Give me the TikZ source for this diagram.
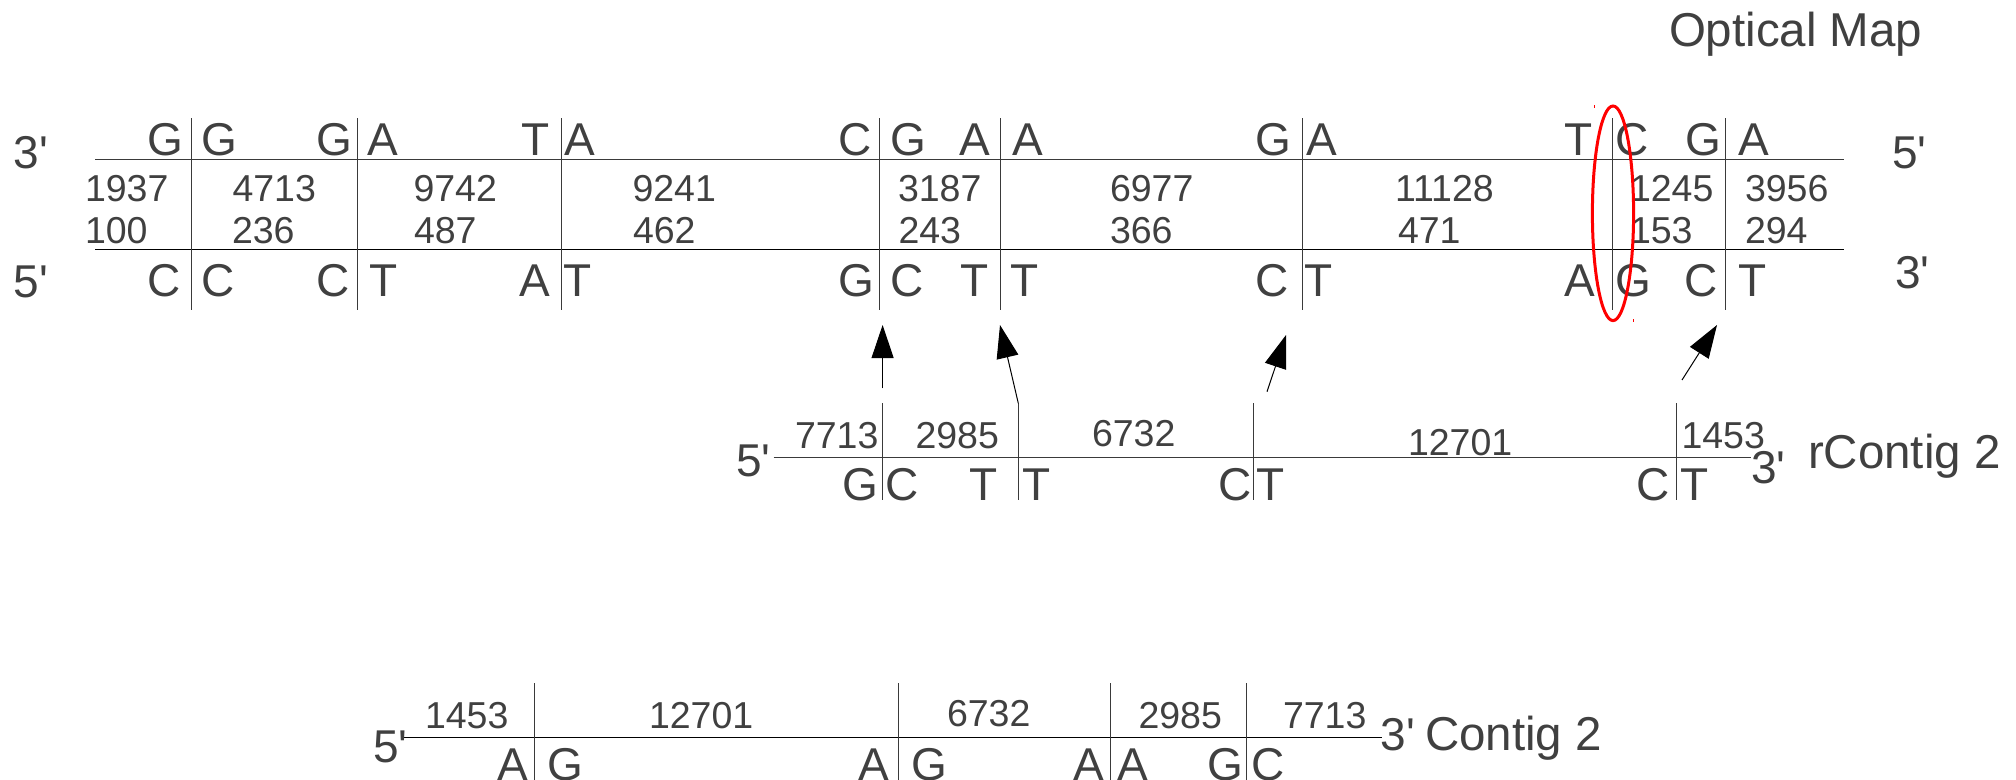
\documentclass[tikz,border=0pt]{standalone}
\usepackage{fontspec}
\setmainfont{Liberation Sans}
\usetikzlibrary{arrows.meta}
\definecolor{txt}{HTML}{404040}
\definecolor{ln}{HTML}{3a3a3a}
\newcommand{\ap}{\textquotesingle}
\begin{document}
\begin{tikzpicture}[x=0.4pt,y=-0.4pt,
 big/.style={font=\fontsize{18.4}{20}\selectfont,text=txt,inner sep=0pt,outer sep=0pt},
 num/.style={font=\fontsize{15}{17}\selectfont,text=txt,inner sep=0pt,outer sep=0pt},
 ttl/.style={font=\fontsize{19}{21}\selectfont,text=txt,inner sep=0pt,outer sep=0pt},
 strand/.style={draw=ln,line width=0.5pt},
 site/.style={draw=ln,line width=0.4pt},
 arr/.style={draw=black,line width=0.4pt,-{Triangle[length=13.2pt,width=8.8pt]}}]
\useasboundingbox (0,0) rectangle (2016,780);

% ---------- Optical map ----------
\node[ttl,anchor=base west] (title) at (1669,46.7) {Optical Map};
\coordinate (ts0) at (95,159.3); \coordinate (ts1) at (1844,159.3);
\coordinate (bs0) at (95,249.3); \coordinate (bs1) at (1844,249.3);
\draw[strand] (ts0) -- (ts1);
\draw[strand,draw=black] (bs0) -- (bs1);
\foreach \x [count=\i] in {191,357.6,561.6,879,1000,1302.6,1612.6,1725.7}{
  \coordinate (ov\i a) at (\x,118.3); \coordinate (ov\i b) at (\x,310);
  \draw[site] (ov\i a) -- (ov\i b);
}
\node[big,anchor=base west] (o3) at (14,168.3) {3\ap};
\node[big,anchor=base west] (o5) at (14,297) {5\ap};
\node[big,anchor=base west] (o5r) at (1892,168.3) {5\ap};
\node[big,anchor=base west] (o3r) at (1895,288) {3\ap};
\foreach \x/\l [count=\i] in {183/G,352/G,550/T,872/C,990/A,1291/G,1593/T,1721/G}
  \node[big,anchor=base east] (tl\i) at (\x,155) {\l};
\foreach \x/\l [count=\i] in {201/G,367/A,564/A,890/G,1012/A,1306/A,1615/C,1738/A}
  \node[big,anchor=base west] (tr\i) at (\x,155) {\l};
\foreach \x/\l [count=\i] in {181/C,350/C,550/A,874/G,989/T,1289/C,1595/A,1718/C}
  \node[big,anchor=base east] (bl\i) at (\x,296.7) {\l};
\foreach \x/\l [count=\i] in {201/C,369/T,563/T,890/C,1010/T,1304/T,1615/G,1738/T}
  \node[big,anchor=base west] (br\i) at (\x,296.7) {\l};
\foreach \x/\n [count=\i] in {85/1937,232.5/4713,413.5/9742,632.5/9241,898/3187,1110/6977,1395/11128,1630/1245,1745/3956}
  \node[num,anchor=base west] (na\i) at (\x,201.7) {\n};
\foreach \x/\n [count=\i] in {85/100,232/236,414/487,633/462,898.5/243,1110/366,1398/471,1630/153,1745/294}
  \node[num,anchor=base west] (nb\i) at (\x,243.3) {\n};
\draw[red,line width=1.2pt] (1613,213.3) ellipse [x radius=8.24pt,y radius=42.92pt];
\draw[red,line width=0.4pt] (1594,105) -- (1594,108);
\draw[red,line width=0.4pt] (1633,319) -- (1633,322);

% ---------- rContig 2 ----------
\coordinate (m0) at (773.7,457.7); \coordinate (m1) at (1751,457.7);
\draw[strand] (m0) -- (m1);
\foreach \x [count=\i] in {882.6,1018.3,1253.5,1676}{
  \coordinate (mv\i a) at (\x,403.3); \coordinate (mv\i b) at (\x,500);
  \draw[site] (mv\i a) -- (mv\i b);
}
\node[big,anchor=base west] (m5) at (736,476.7) {5\ap};
\node[big,anchor=base west] (m3) at (1751,483.3) {3\ap};
\node[ttl,anchor=base west] (rc) at (1808,468.3) {rContig 2};
\node[num,anchor=base west] (mn1) at (795,448.3) {7713};
\node[num,anchor=base west] (mn2) at (915.5,448.3) {2985};
\node[num,anchor=base west] (mn3) at (1092,446.7) {6732};
\node[num,anchor=base west] (mn4) at (1408,455) {12701};
\node[num,anchor=base west] (mn5) at (1681.5,448) {1453};
\foreach \x/\l [count=\i] in {878/G,998/T,1252/C,1670/C}
  \node[big,anchor=base east] (ml\i) at (\x,500) {\l};
\foreach \x/\l [count=\i] in {885.5/C,1022.5/T,1256/T,1680/T}
  \node[big,anchor=base west] (mr\i) at (\x,500) {\l};

% arrows
\coordinate (a1s) at (882.6,388.3); \coordinate (a1e) at (882.6,325);
\coordinate (a3s) at (1267,391.7); \coordinate (a3e) at (1286,335);
\coordinate (a4s) at (1682,380); \coordinate (a4e) at (1717,325);
\coordinate (a2e) at (1000,325);
\draw[arr] (a1s) -- (a1e);
\draw[arr] (mv2a) -- (a2e);
\draw[arr] (a3s) -- (a3e);
\draw[arr] (a4s) -- (a4e);

% ---------- Contig 2 ----------
\coordinate (c0) at (404,737.7); \coordinate (c1) at (1382,737.7);
\draw[strand,draw=black] (c0) -- (c1);
\foreach \x [count=\i] in {534,898.8,1110,1246}{
  \coordinate (cv\i a) at (\x,683); \coordinate (cv\i b) at (\x,782);
  \draw[site] (cv\i a) -- (cv\i b);
}
\node[big,anchor=base west] (c5) at (373,762) {5\ap};
\node[big,anchor=base west] (c3) at (1380.5,750) {3\ap};
\node[ttl,anchor=base west] (cc) at (1425,750) {Contig 2};
\node[num,anchor=base west] (cn1) at (425,728.3) {1453};
\node[num,anchor=base west] (cn2) at (649,728.3) {12701};
\node[num,anchor=base west] (cn3) at (947,726) {6732};
\node[num,anchor=base west] (cn4) at (1138.5,728.3) {2985};
\node[num,anchor=base west] (cn5) at (1283,728.3) {7713};
\foreach \x/\l [count=\i] in {528.5/A,889/A,1104/A,1243/G}
  \node[big,anchor=base east] (cl\i) at (\x,780) {\l};
\foreach \x/\l [count=\i] in {547/G,911.5/G,1117/A,1251.5/C}
  \node[big,anchor=base west] (cr\i) at (\x,780) {\l};
\end{tikzpicture}
\end{document}
